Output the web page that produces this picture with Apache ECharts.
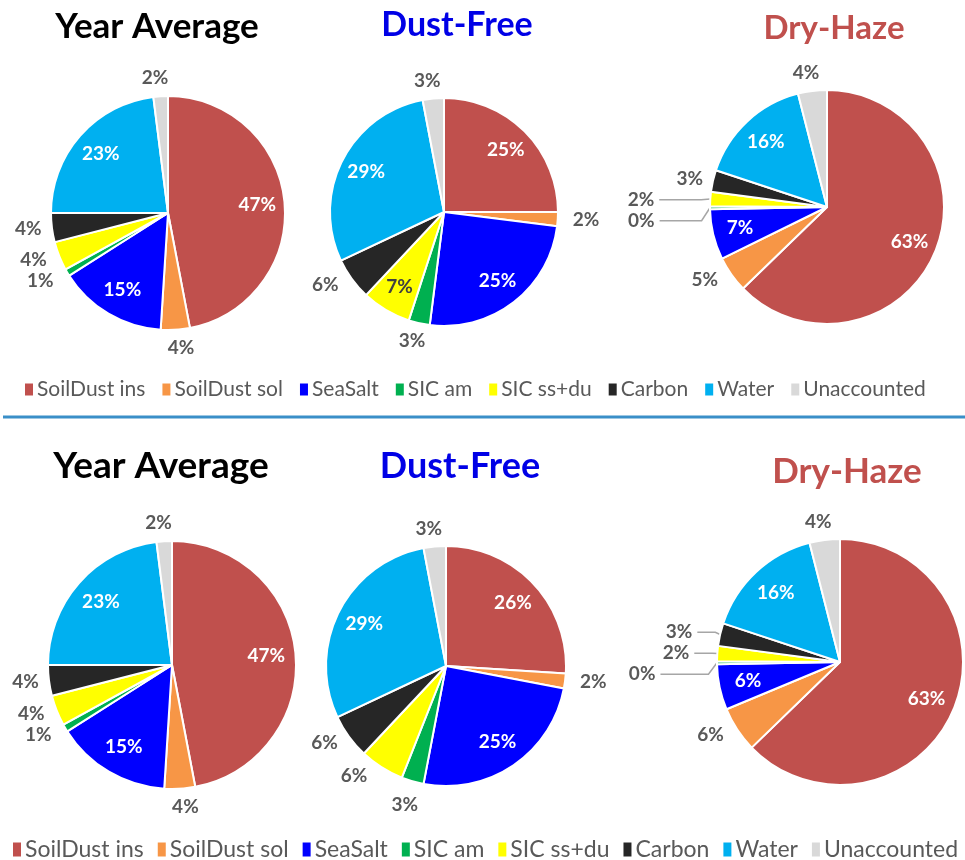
<!DOCTYPE html>
<html>
<head>
<meta charset="utf-8">
<script src="https://cdn.jsdelivr.net/npm/echarts@6/dist/echarts.min.js"></script>
<style>
    html, body { margin: 0; padding: 0; background: #ffffff; }
    #chart { width: 965px; height: 860px; }
</style>
</head>
<body>
<div id="chart"></div>
<script>
    // components of the aerosol mass, in legend order
    const categories = ['SoilDust ins', 'SoilDust sol', 'SeaSalt', 'SIC am', 'SIC ss+du', 'Carbon', 'Water', 'Unaccounted'];

    // percent shares (SIC am in Dry-Haze is a sliver labelled 0%)
    const topYearAverage = [47, 4, 15, 1, 4, 4, 23, 2];
    const topDustFree = [25, 2, 25, 3, 7, 6, 29, 3];
    const topDryHaze = [63, 5, 7, 0.4, 2, 3, 16, 4];
    const bottomYearAverage = [47, 4, 15, 1, 4, 4, 23, 2];
    const bottomDustFree = [26, 2, 25, 3, 6, 6, 29, 3];
    const bottomDryHaze = [63, 6, 6, 0.4, 2, 3, 16, 4];

    const titles = ['Year Average', 'Dust-Free', 'Dry-Haze'];

    const colors = ['#c0504d', '#f79646', '#0000ff', '#00b050', '#ffff00', '#262626', '#00b0f0', '#d9d9d9'];
    const FONT = 'Lato, "Open Sans", sans-serif';
    const GREY = '#595959';

    // direction (clockwise from 12 o'clock) of the middle of slice i
    function midDirection(values, i) {
        const total = values.reduce((a, b) => a + b, 0);
        const before = values.slice(0, i).reduce((a, b) => a + b, 0);
        const theta = (before + values[i] / 2) / total * 2 * Math.PI;
        return [Math.sin(theta), -Math.cos(theta)];
    }

    function pieSeries(name, values, center, radius, insideIdx, lines) {
        const main = {
            type: 'pie',
            name: name,
            center: center,
            radius: radius,
            startAngle: 90,
            clockwise: true,
            animation: false,
            itemStyle: {borderColor: '#ffffff', borderWidth: 2},
            emphasis: {disabled: true},
            label: {
                position: 'outside',
                color: GREY,
                fontFamily: FONT,
                fontSize: 19,
                fontWeight: 'bold',
                formatter: p => Math.round(p.value) + '%'
            },
            labelLine: {show: false, length: 10, length2: 0, lineStyle: {color: '#a6a6a6', width: 1.5}},
            // labels above / below the pie sit centred, like the spreadsheet does
            labelLayout: p => {
                const d = midDirection(values, p.dataIndex);
                if (Math.abs(d[0]) < 0.35)
                    return {align: 'center', dy: d[1] * 8};
                return {};
            },
            data: values.map((v, i) => ({
                name: categories[i],
                value: v,
                itemStyle: {color: colors[i]},
                label: {show: !insideIdx.includes(i)},
                labelLine: lines[i] ? {show: true, length: lines[i][0], length2: lines[i][1]} : {}
            }))
        };
        // transparent ring that only carries the labels drawn inside the slices
        const inner = {
            type: 'pie',
            name: name + ' labels',
            center: center,
            radius: [radius * 0.48, radius],
            startAngle: 90,
            clockwise: true,
            animation: false,
            silent: true,
            itemStyle: {color: 'rgba(0,0,0,0)', borderWidth: 0},
            label: {
                position: 'inside',
                fontFamily: FONT,
                fontSize: 19,
                fontWeight: 'bold',
                formatter: p => Math.round(p.value) + '%'
            },
            labelLine: {show: false},
            data: values.map((v, i) => ({
                name: categories[i],
                value: v,
                label: {show: insideIdx.includes(i), color: i === 4 ? '#404040' : '#ffffff'}
            }))
        };
        return [main, inner];
    }

    const pies = [
        pieSeries('top ' + titles[0], topYearAverage, [168, 213], 117, [0, 2, 6], {}),
        pieSeries('top ' + titles[1], topDustFree, [444, 212], 114, [0, 2, 4, 6], {}),
        pieSeries('top ' + titles[2], topDryHaze, [827, 207], 117, [0, 2, 6], {3: [14, 42], 4: [14, 42]}),
        pieSeries('bottom ' + titles[0], bottomYearAverage, [172, 665], 124, [0, 2, 6], {}),
        pieSeries('bottom ' + titles[1], bottomDustFree, [446, 666], 120, [0, 2, 6], {}),
        pieSeries('bottom ' + titles[2], bottomDryHaze, [840, 662], 123, [0, 2, 6], {3: [14, 48], 4: [10, 18], 5: [10, 18]})
    ];

    function legend(left, top, size, gap, h) {
        return {
            left: left,
            top: top,
            width: 1400,   // one row; the bottom one runs off the right edge as in the source
            data: categories,
            icon: 'rect',
            itemWidth: 10,
            itemHeight: h,
            itemGap: gap,
            selectedMode: false,
            textStyle: {color: GREY, fontFamily: FONT, fontSize: size, padding: [0, 0, 0, -2]}
        };
    }

    function title(text, x, y, color, size) {
        return {
            type: 'text',
            x: x,
            y: y,
            style: {
                text: text,
                fill: color,
                font: 'bold ' + size + 'px ' + FONT,
                align: 'center',
                verticalAlign: 'middle'
            }
        };
    }

    const chart = echarts.init(document.getElementById('chart'));
    chart.setOption({
        backgroundColor: '#ffffff',
        legend: [
            legend(18, 374, 21, 15, 14),
            legend(6, 833, 23, 12, 16)
        ],
        graphic: [
            title(titles[0], 157, 27, '#000000', 35),
            title(titles[1], 457, 25, '#0000e6', 34),
            title(titles[2], 834, 28, '#c0504d', 33),
            title(titles[0], 161, 466, '#000000', 37),
            title(titles[1], 460, 466, '#0000e6', 36),
            title(titles[2], 847, 472, '#c0504d', 35),
            {
                type: 'line',
                shape: {x1: 3, y1: 417, x2: 965, y2: 417},
                style: {stroke: '#3a8fc8', lineWidth: 3}
            }
        ],
        series: [].concat(...pies.map(p => [p[0]]), ...pies.map(p => [p[1]]))
    });
</script>
</body>
</html>
